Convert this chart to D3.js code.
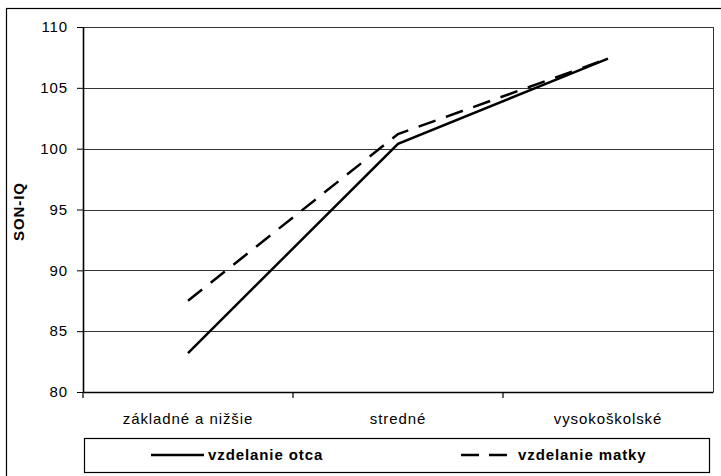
<!DOCTYPE html>
<html>
<head>
<meta charset="utf-8">
<script src="https://cdn.jsdelivr.net/npm/d3@7"></script>
<style>
  body { margin: 0; background: #fff; }
  svg { display: block; font-family: "Liberation Sans", Arial, sans-serif; }
</style>
</head>
<body>
<script>
const categories = ["základné a nižšie", "stredné", "vysokoškolské"]
const otca = [83.2, 100.4, 107.4]
const matky = [87.5, 101.2, 107.4]
const yTicks = [80, 85, 90, 95, 100, 105, 110]
const seriesNames = ["vzdelanie otca", "vzdelanie matky"]

const width = 721
const height = 476
const marginLeft = 83
const marginRight = 8
const marginTop = 27
const plotBottom = 392
const fontSize = 15
const spacing = "0.9px"

const x = d3.scaleBand()
    .domain(categories)
    .range([marginLeft, width - marginRight])

const y = d3.scaleLinear([80, 110], [plotBottom, marginTop])

const svg = d3.select("body").append("svg")
    .attr("width", width)
    .attr("height", height)

// outer frame (right and bottom edges fall outside the picture)
svg.append("rect")
    .attr("x", 6.5).attr("y", 8.5)
    .attr("width", width + 10).attr("height", height + 10)
    .attr("fill", "none").attr("stroke", "#000").attr("stroke-width", 1.2)

// gridlines
svg.append("g")
    .selectAll("line")
    .data(yTicks.slice(1))
    .join("line")
    .attr("x1", marginLeft).attr("x2", width - marginRight)
    .attr("y1", d => Math.round(y(d)) + 0.5).attr("y2", d => Math.round(y(d)) + 0.5)
    .attr("stroke", "#333").attr("stroke-width", 1)

// plot border right
svg.append("line")
    .attr("x1", width - marginRight + 0.5).attr("x2", width - marginRight + 0.5)
    .attr("y1", marginTop).attr("y2", plotBottom)
    .attr("stroke", "#333")

// y axis
const yAxis = svg.append("g")
    .attr("transform", `translate(${marginLeft},0)`)
    .call(d3.axisLeft(y).tickValues(yTicks).tickSize(6).tickPadding(9).tickSizeOuter(0))
yAxis.select(".domain").attr("stroke-width", 1.6)
yAxis.selectAll("text")
    .attr("font-size", fontSize).attr("fill", "#000")
    .attr("font-family", "Liberation Sans, Arial, sans-serif")
    .style("letter-spacing", spacing)

// x axis
const xAxis = svg.append("g")
    .attr("transform", `translate(0,${plotBottom})`)
    .call(d3.axisBottom(x).tickSize(0).tickPadding(21).tickSizeOuter(0))
xAxis.select(".domain").attr("stroke-width", 1.6)
xAxis.selectAll("text")
    .attr("font-size", fontSize).attr("fill", "#000")
    .attr("font-family", "Liberation Sans, Arial, sans-serif")
    .style("letter-spacing", spacing)

// category boundary ticks
svg.append("g")
    .selectAll("line")
    .data(categories)
    .join("line")
    .attr("x1", d => x(d)).attr("x2", d => x(d))
    .attr("y1", plotBottom).attr("y2", plotBottom + 6)
    .attr("stroke", "#000").attr("stroke-width", 1.2)

// y label
svg.append("text")
    .attr("transform", `translate(24,${(marginTop + plotBottom) / 2 + 2}) rotate(-90)`)
    .attr("text-anchor", "middle")
    .attr("font-size", fontSize).attr("font-weight", "bold")
    .style("letter-spacing", spacing)
    .text("SON-IQ")

const line = d3.line()
    .x((d, i) => x(categories[i]) + x.bandwidth() / 2)
    .y(d => y(d))

svg.append("path")
    .datum(otca)
    .attr("d", line)
    .attr("fill", "none").attr("stroke", "#000").attr("stroke-width", 2.5)

svg.append("path")
    .datum(matky)
    .attr("d", line)
    .attr("fill", "none").attr("stroke", "#000").attr("stroke-width", 2.5)
    .attr("stroke-dasharray", "18,11")

// legend
svg.append("rect")
    .attr("x", 84.5).attr("y", 438.5)
    .attr("width", 625).attr("height", 34)
    .attr("fill", "none").attr("stroke", "#000").attr("stroke-width", 1.2)

const legendItems = [
    { name: seriesNames[0], x0: 151, dash: null },
    { name: seriesNames[1], x0: 461, dash: "18,10" }
]
const item = svg.append("g")
    .selectAll("g")
    .data(legendItems)
    .join("g")
    .attr("transform", d => `translate(${d.x0},455)`)
item.append("line")
    .attr("x1", 0).attr("x2", 53)
    .attr("stroke", "#000").attr("stroke-width", 2.5)
    .attr("stroke-dasharray", d => d.dash)
item.append("text")
    .attr("x", 57).attr("dy", "0.35em")
    .attr("font-size", fontSize).attr("font-weight", "bold")
    .style("letter-spacing", spacing)
    .text(d => d.name)
</script>
</body>
</html>
